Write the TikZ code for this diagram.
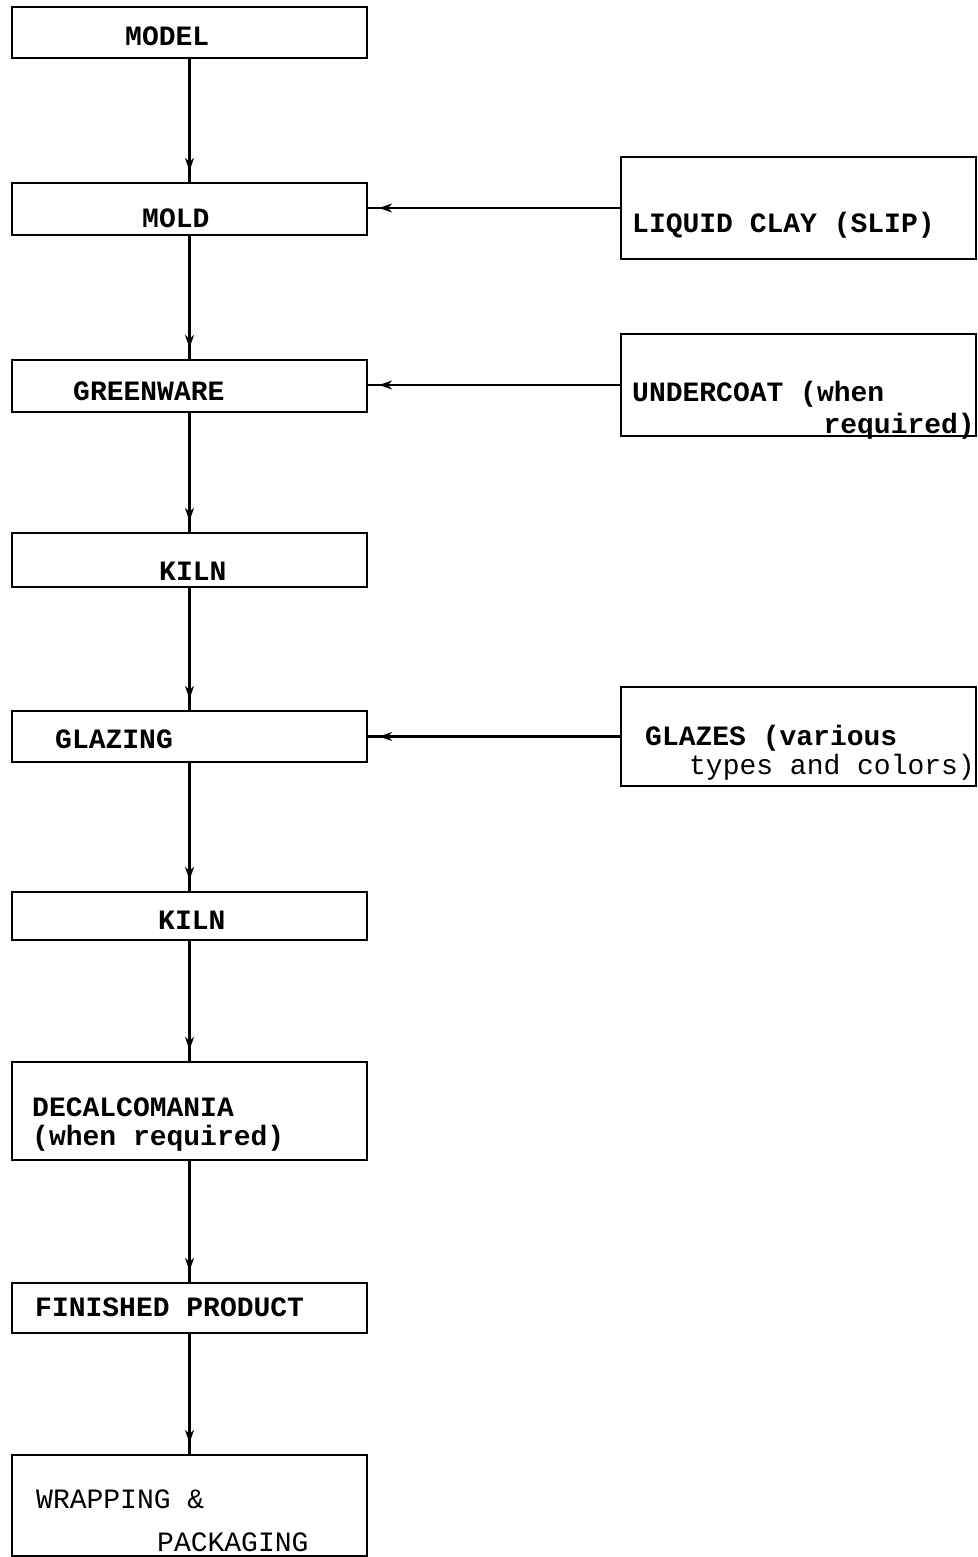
\documentclass[tikz,border=0pt]{standalone}
\usepackage{fontspec}
\setmonofont{Liberation Mono}
\usetikzlibrary{arrows.meta,decorations.markings}
\begin{document}
\begin{tikzpicture}[x=1pt,y=-1pt,
  box/.style={draw=black, line width=2.2pt, rectangle, inner sep=0pt, minimum width=355pt},
  lbl/.style={inner sep=0pt, font=\fontsize{28}{32}\selectfont\ttfamily\bfseries},
  lblr/.style={inner sep=0pt, font=\fontsize{28}{32}\selectfont\ttfamily},
  flow/.style={line width=2.4pt, postaction={decorate}, decoration={markings,
     mark=at position -11pt with {\arrow{Stealth[length=13pt,width=9pt]}}}}
]
\useasboundingbox (0,0) rectangle (977,1557);
% left column boxes
\node[box, minimum height=51pt] (model) at (189.5,32.5) {};
\node[box, minimum height=52pt] (mold) at (189.5,209) {};
\node[box, minimum height=52pt] (green) at (189.5,386) {};
\node[box, minimum height=54pt] (kilnA) at (189.5,560) {};
\node[box, minimum height=51pt] (glazing) at (189.5,736.5) {};
\node[box, minimum height=48pt] (kilnB) at (189.5,916) {};
\node[box, minimum height=98pt] (decal) at (189.5,1111) {};
\node[box, minimum height=50pt] (finished) at (189.5,1308) {};
\node[box, minimum height=101pt] (wrap) at (189.5,1505.5) {};
% right column boxes
\node[box, minimum height=102pt] (slip) at (798.5,208) {};
\node[box, minimum height=102pt] (under) at (798.5,385) {};
\node[box, minimum height=99pt] (glazes) at (798.5,736.5) {};
% labels
\node[lbl, anchor=base west] (tmodel) at (125,46) {MODEL};
\node[lbl, anchor=base west] (tmold) at (142,227) {MOLD};
\node[lbl, anchor=base west] (tgreen) at (73,400) {GREENWARE};
\node[lbl, anchor=base west] (tkilnA) at (159,580) {KILN};
\node[lbl, anchor=base west] (tglazing) at (55,748) {GLAZING};
\node[lbl, anchor=base west] (tkilnB) at (158,929) {KILN};
\node[lbl, anchor=base west] (tdecalA) at (32,1116) {DECALCOMANIA};
\node[lbl, anchor=base west] (tdecalB) at (32,1145) {(when required)};
\node[lbl, anchor=base west] (tfinished) at (35,1316) {FINISHED PRODUCT};
\node[lblr, anchor=base west] (twrapA) at (36,1508) {WRAPPING \&};
\node[lblr, anchor=base west] (twrapB) at (157,1551) {PACKAGING};
\node[lbl, anchor=base west] (tslip) at (632,233) {LIQUID CLAY (SLIP)};
\node[lbl, anchor=base west] (tunderA) at (632,401) {UNDERCOAT (when};
\node[lbl, anchor=base east] (tunderB) at (975,433) {required)};
\node[lbl, anchor=base west] (tglazesA) at (645,745) {GLAZES (various};
\node[lblr, anchor=base east] (tglazesB) at (975,774) {types and colors)};
% vertical flow
\draw[flow] (model.south) -- (mold.north);
\draw[flow] (mold.south) -- (green.north);
\draw[flow] (green.south) -- (kilnA.north);
\draw[flow] (kilnA.south) -- (glazing.north);
\draw[flow] (glazing.south) -- (kilnB.north);
\draw[flow] (kilnB.south) -- (decal.north);
\draw[flow] (decal.south) -- (finished.north);
\draw[flow] (finished.south) -- (wrap.north);
% horizontal inputs
\draw[flow] (slip.west) -- (slip.west -| mold.east);
\draw[flow] (under.west) -- (under.west -| green.east);
\draw[flow] (glazes.west) -- (glazes.west -| glazing.east);
\end{tikzpicture}
\end{document}
